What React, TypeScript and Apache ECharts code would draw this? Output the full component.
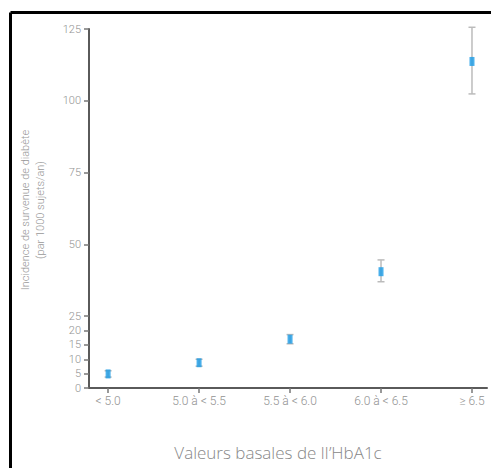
import React, { useEffect, useRef } from "react";
import * as echarts from "echarts";

const categories = ["< 5.0", "5.0 à < 5.5", "5.5 à < 6.0", "6.0 à < 6.5", "≥ 6.5"];
const means = [4.9, 8.8, 17.0, 40.5, 113.7];
const lower = [3.8, 7.6, 15.4, 37.0, 102.4];
const upper = [6.0, 10.0, 18.6, 44.6, 125.6];
const yTicks = [0, 5, 10, 15, 20, 25, 50, 75, 100, 125];

const FONT = "Roboto";

export default function App() {
  const ref = useRef<HTMLDivElement>(null);
  useEffect(() => {
    document.body.style.margin = "0";
    const chart = echarts.init(ref.current!, null, { renderer: "svg" });
    const xIdx = categories.map((_, i) => i);
    chart.setOption({
      animation: false,
      backgroundColor: "#fff",
      grid: { left: 89, right: 4, top: 29, bottom: 80, containLabel: false },
      xAxis: {
        type: "value",
        min: -0.21,
        max: 4.165,
        splitLine: { show: false },
        axisLine: { show: true, onZero: false, lineStyle: { color: "#5a5a5a", width: 2 } },
        axisTick: { show: true, customValues: xIdx, length: 5, lineStyle: { color: "#777", width: 1.5 } },
        axisLabel: {
          customValues: xIdx,
          formatter: (v: number) => categories[Math.round(v)] ?? "",
          color: "#929292",
          fontSize: 12,
          fontWeight: 300,
          fontFamily: FONT,
          margin: 7,
        },
      },
      yAxis: {
        type: "value",
        min: 0,
        max: 125,
        splitLine: { show: false },
        axisLine: { show: true, onZero: false, lineStyle: { color: "#5a5a5a", width: 2 } },
        axisTick: { show: true, customValues: yTicks, length: 5, lineStyle: { color: "#777", width: 1.5 } },
        axisLabel: {
          customValues: yTicks,
          color: "#929292",
          fontSize: 11,
          fontWeight: 300,
          fontFamily: FONT,
          margin: 8,
        },
      },
      graphic: [
        { type: "line", shape: { x1: 10.5, y1: 12.5, x2: 491, y2: 12.5 }, style: { stroke: "#000", lineWidth: 3 } },
        { type: "line", shape: { x1: 10.5, y1: 12.5, x2: 10.5, y2: 468 }, style: { stroke: "#000", lineWidth: 3 } },
        {
          type: "text",
          x: 33,
          y: 210,
          rotation: Math.PI / 2,
          style: {
            text: "Incidence de survenue de diabète\n(par 1000 sujets/an)",
            fill: "#999",
            fontSize: 11,
            fontWeight: 300,
            fontFamily: FONT,
            lineHeight: 15,
            align: "center",
            verticalAlign: "middle",
          },
        },
        {
          type: "text",
          x: 278,
          y: 452,
          style: {
            text: "Valeurs basales de lI’HbA1c",
            fill: "#888",
            fontSize: 17,
            fontFamily: "Open Sans",
            fontWeight: 300,
            align: "center",
            verticalAlign: "middle",
          },
        },
      ],
      series: [
        {
          type: "custom",
          data: xIdx.map((i) => [i, lower[i], upper[i]]),
          renderItem: (params: any, api: any) => {
            const x = api.value(0);
            const lo = api.coord([x, api.value(1)]);
            const hi = api.coord([x, api.value(2)]);
            const cap = 3.5;
            const st = { stroke: "#bbb", lineWidth: 1.5 };
            return {
              type: "group",
              children: [
                { type: "line", shape: { x1: lo[0], y1: lo[1], x2: hi[0], y2: hi[1] }, style: st },
                { type: "line", shape: { x1: lo[0] - cap, y1: lo[1], x2: lo[0] + cap, y2: lo[1] }, style: st },
                { type: "line", shape: { x1: hi[0] - cap, y1: hi[1], x2: hi[0] + cap, y2: hi[1] }, style: st },
              ],
            };
          },
          z: 2,
        },
        {
          type: "scatter",
          data: xIdx.map((i) => [i, means[i]]),
          symbol: "rect",
          symbolSize: [5, 9],
          itemStyle: { color: "#1a9be6" },
          z: 3,
        },
      ],
    });
    return () => chart.dispose();
  }, []);
  return <div ref={ref} style={{ width: 491, height: 468 }} />;
}
